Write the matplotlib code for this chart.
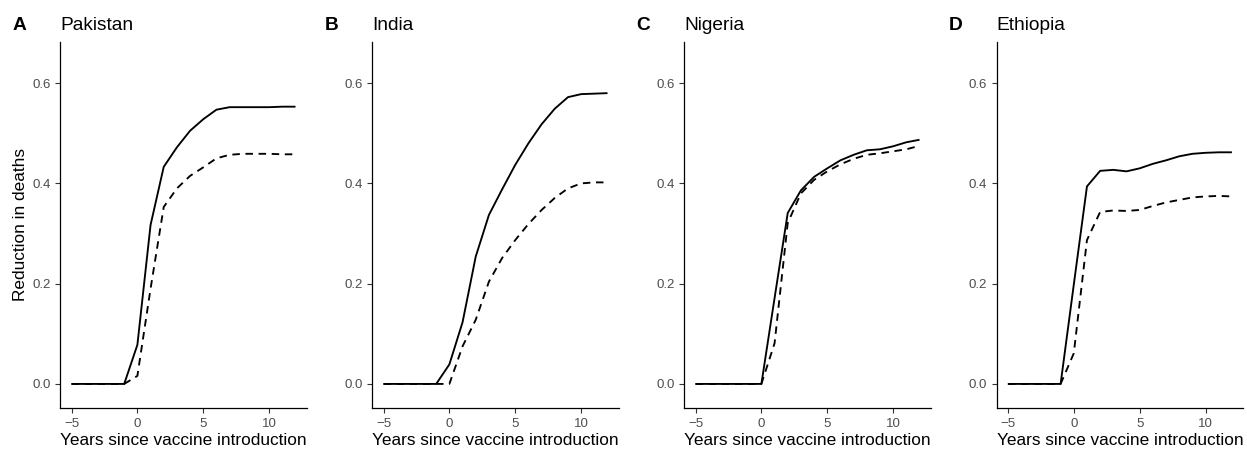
import matplotlib
matplotlib.use("Agg")
import matplotlib.pyplot as plt

plt.rcParams["font.family"] = ["Liberation Sans", "DejaVu Sans"]

# ------------------------------------------------------------
# data
# ------------------------------------------------------------
years = [-5, -4, -3, -2, -1, 0, 1, 2, 3, 4, 5, 6, 7, 8, 9, 10, 11, 12]

countries = ["Pakistan", "India", "Nigeria", "Ethiopia"]
letters = ["A", "B", "C", "D"]

pakistan_solid = [0, 0, 0, 0, 0, 0.078, 0.317, 0.433, 0.472, 0.505, 0.528, 0.547,
                  0.552, 0.552, 0.552, 0.552, 0.553, 0.553]
pakistan_dashed = [0, 0, 0, 0, 0, 0.016, 0.19, 0.353, 0.39, 0.415, 0.432, 0.45,
                   0.457, 0.459, 0.459, 0.459, 0.458, 0.458]

india_solid = [0, 0, 0, 0, 0, 0.039, 0.123, 0.254, 0.337, 0.388, 0.437, 0.48,
               0.518, 0.549, 0.572, 0.578, 0.579, 0.58]
india_dashed = [0, 0, 0, 0, 0, 0, 0.075, 0.128, 0.204, 0.251, 0.287, 0.319,
                0.347, 0.371, 0.39, 0.4, 0.402, 0.402]

nigeria_solid = [0, 0, 0, 0, 0, 0, 0.171, 0.341, 0.386, 0.413, 0.43, 0.446,
                 0.457, 0.466, 0.468, 0.474, 0.482, 0.487]
nigeria_dashed = [0, 0, 0, 0, 0, 0, 0.081, 0.321, 0.38, 0.407, 0.424, 0.438,
                  0.449, 0.457, 0.46, 0.464, 0.468, 0.475]

ethiopia_solid = [0, 0, 0, 0, 0, 0.198, 0.394, 0.425, 0.427, 0.424, 0.43, 0.439,
                  0.446, 0.454, 0.459, 0.461, 0.462, 0.462]
ethiopia_dashed = [0, 0, 0, 0, 0, 0.061, 0.287, 0.343, 0.346, 0.345, 0.347, 0.355,
                   0.362, 0.367, 0.372, 0.374, 0.375, 0.374]

solid_series = [pakistan_solid, india_solid, nigeria_solid, ethiopia_solid]
dashed_series = [pakistan_dashed, india_dashed, nigeria_dashed, ethiopia_dashed]

x_ticks = [-5, 0, 5, 10]
y_ticks = [0.0, 0.2, 0.4, 0.6]

# ------------------------------------------------------------
# figure
# ------------------------------------------------------------
W, H = 1247, 450
fig = plt.figure(figsize=(W / 100, H / 100), dpi=100)

lefts = [60.3, 372.3, 684.3, 996.7]
ax_w = 246.4
ax_top, ax_bottom = 42, 408

for i, (name, letter) in enumerate(zip(countries, letters)):
    ax = fig.add_axes([lefts[i] / W, 1 - ax_bottom / H, ax_w / W, (ax_bottom - ax_top) / H])
    ax.plot(years, solid_series[i], color="black", lw=1.35, solid_capstyle="butt")
    ax.plot(years, dashed_series[i], color="black", lw=1.35, linestyle=(0, (4, 3)))

    ax.set_xlim(-5.85, 12.85)
    ax.set_ylim(-0.048, 0.682)
    ax.set_xticks(x_ticks)
    ax.set_yticks(y_ticks)
    ax.set_yticklabels([f"{v:.1f}" for v in y_ticks])
    ax.set_xticklabels(["\u22125", "0", "5", "10"])

    for side in ["top", "right"]:
        ax.spines[side].set_visible(False)
    for side in ["left", "bottom"]:
        ax.spines[side].set_linewidth(0.9)
        ax.spines[side].set_color("black")
    ax.tick_params(length=3.5, width=0.8, color="#333333", labelcolor="#4D4D4D",
                   labelsize=9.5, pad=3.5)

    ax.set_xlabel("Years since vaccine introduction", fontsize=12.4, labelpad=2.5)
    if i == 0:
        ax.set_ylabel("Reduction in deaths", fontsize=12.4, labelpad=3)

    # panel title and letter
    fig.text(lefts[i] / W, 1 - 29.5 / H, name, fontsize=13.8, ha="left", va="baseline")
    fig.text((lefts[i] - 48) / W, 1 - 29.5 / H, letter, fontsize=13.8,
             fontweight="bold", ha="left", va="baseline")

fig.savefig("out.png", dpi=100)
